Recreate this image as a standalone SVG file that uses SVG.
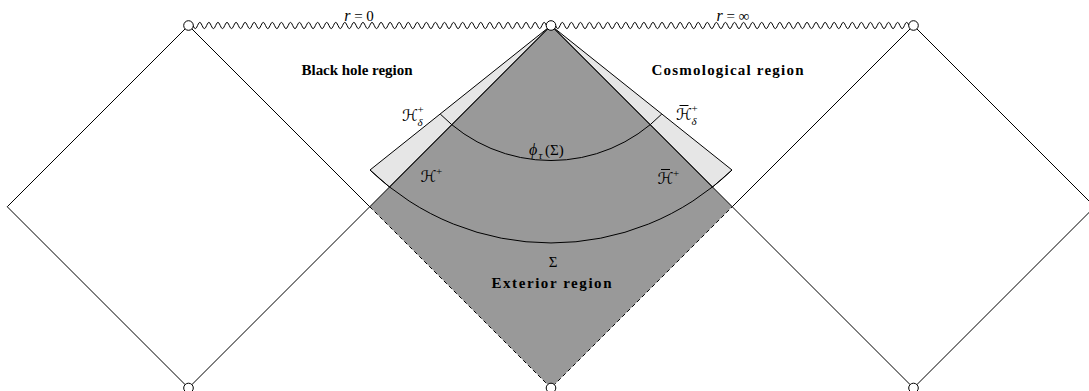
<svg xmlns="http://www.w3.org/2000/svg" width="1089" height="391" viewBox="0 0 1089 391">
<style>
.ln{fill:none;stroke:#000;stroke-width:1}
.dash{fill:none;stroke:#000;stroke-width:1;stroke-dasharray:4 3}
.wave{fill:none;stroke:#000;stroke-width:1}
.vtx{fill:#fff;stroke:#000;stroke-width:1}
.bar{stroke:#000;stroke-width:1}
.bold{font-family:"Liberation Serif","DejaVu Serif",serif;font-weight:bold;font-size:15px;fill:#000}
.mi{font-family:"Liberation Serif","DejaVu Serif",serif;font-style:italic;font-size:16px;fill:#000}
.rm{font-family:"Liberation Serif","DejaVu Serif",serif;font-size:15px;fill:#000}
.cal{font-family:"DejaVu Serif","DejaVu Sans",serif;font-style:italic;font-size:16px;fill:#000}
.sm{font-family:"Liberation Serif","DejaVu Serif",serif;font-size:11px;fill:#000}
.smi{font-family:"Liberation Serif","DejaVu Serif",serif;font-style:italic;font-size:11px;fill:#000}
</style>
<g id="regions">
  <path id="exterior-fill" d="M551,25.5 L732.25,206.75 L551,388 L369.75,206.75 Z" fill="#999999"/>
  <path id="h-delta-left" d="M551,25.5 L370,170 A261,261 0 0,0 389.5,187 Z" fill="#e6e6e6" stroke="#000" stroke-width="1"/>
  <path id="h-delta-right" d="M551,25.5 L732,170 A261,261 0 0,1 712.5,187 Z" fill="#e6e6e6" stroke="#000" stroke-width="1"/>
</g>
<g id="connectors">
  <path id="left-diamond" class="ln" d="M188.5,25.5 L369.75,206.75 L188.5,388 L7.25,206.75 Z"/>
  <path id="right-diamond" class="ln" d="M913.5,25.5 L1094.75,206.75 L913.5,388 L732.25,206.75 Z"/>
  <path id="H-plus" class="ln" d="M369.75,206.75 L551,25.5"/>
  <path id="Hbar-plus" class="ln" d="M551,25.5 L732.25,206.75"/>
  <path id="past-edges" class="dash" d="M369.75,206.75 L551,388 L732.25,206.75"/>
  <path id="sigma" class="ln" d="M370,170 A261,261 0 0,0 732,170"/>
  <path id="phi-sigma" class="ln" d="M440.3,114.1 A155.2,155.2 0 0,0 661.7,114.1"/>
  <path id="singularity-left" class="wave" d="M188.5,25.5 q2.2655,-6.2 4.531,0 t4.531,0 t4.531,0 t4.531,0 t4.531,0 t4.531,0 t4.531,0 t4.531,0 t4.531,0 t4.531,0 t4.531,0 t4.531,0 t4.531,0 t4.531,0 t4.531,0 t4.531,0 t4.531,0 t4.531,0 t4.531,0 t4.531,0 t4.531,0 t4.531,0 t4.531,0 t4.531,0 t4.531,0 t4.531,0 t4.531,0 t4.531,0 t4.531,0 t4.531,0 t4.531,0 t4.531,0 t4.531,0 t4.531,0 t4.531,0 t4.531,0 t4.531,0 t4.531,0 t4.531,0 t4.531,0 t4.531,0 t4.531,0 t4.531,0 t4.531,0 t4.531,0 t4.531,0 t4.531,0 t4.531,0 t4.531,0 t4.531,0 t4.531,0 t4.531,0 t4.531,0 t4.531,0 t4.531,0 t4.531,0 t4.531,0 t4.531,0 t4.531,0 t4.531,0 t4.531,0 t4.531,0 t4.531,0 t4.531,0 t4.531,0 t4.531,0 t4.531,0 t4.531,0 t4.531,0 t4.531,0 t4.531,0 t4.531,0 t4.531,0 t4.531,0 t4.531,0 t4.531,0 t4.531,0 t4.531,0 t4.531,0 t4.531,0"/>
  <path id="singularity-right" class="wave" d="M551,25.5 q2.2655,-6.2 4.531,0 t4.531,0 t4.531,0 t4.531,0 t4.531,0 t4.531,0 t4.531,0 t4.531,0 t4.531,0 t4.531,0 t4.531,0 t4.531,0 t4.531,0 t4.531,0 t4.531,0 t4.531,0 t4.531,0 t4.531,0 t4.531,0 t4.531,0 t4.531,0 t4.531,0 t4.531,0 t4.531,0 t4.531,0 t4.531,0 t4.531,0 t4.531,0 t4.531,0 t4.531,0 t4.531,0 t4.531,0 t4.531,0 t4.531,0 t4.531,0 t4.531,0 t4.531,0 t4.531,0 t4.531,0 t4.531,0 t4.531,0 t4.531,0 t4.531,0 t4.531,0 t4.531,0 t4.531,0 t4.531,0 t4.531,0 t4.531,0 t4.531,0 t4.531,0 t4.531,0 t4.531,0 t4.531,0 t4.531,0 t4.531,0 t4.531,0 t4.531,0 t4.531,0 t4.531,0 t4.531,0 t4.531,0 t4.531,0 t4.531,0 t4.531,0 t4.531,0 t4.531,0 t4.531,0 t4.531,0 t4.531,0 t4.531,0 t4.531,0 t4.531,0 t4.531,0 t4.531,0 t4.531,0 t4.531,0 t4.531,0 t4.531,0 t4.531,0"/>
</g>
<g id="vertices">
  <circle id="v-top-left" class="vtx" cx="188.5" cy="25.5" r="4.8"/>
  <circle id="v-top-mid" class="vtx" cx="551" cy="25.5" r="4.8"/>
  <circle id="v-top-right" class="vtx" cx="913.5" cy="25.5" r="4.8"/>
  <circle id="v-bot-left" class="vtx" cx="188.5" cy="388" r="4.8"/>
  <circle id="v-bot-mid" class="vtx" cx="551" cy="388" r="4.8"/>
  <circle id="v-bot-right" class="vtx" cx="913.5" cy="388" r="4.8"/>
</g>
<g id="labels">
  <text id="lbl-r0" x="359" y="20.5" text-anchor="middle"><tspan class="mi">r</tspan><tspan class="rm"> = 0</tspan></text>
  <text id="lbl-rinf" x="733" y="20.5" text-anchor="middle"><tspan class="mi">r</tspan><tspan class="rm"> = ∞</tspan></text>
  <text id="lbl-bh" class="bold" x="357" y="75" text-anchor="middle" textLength="111">Black hole region</text>
  <text id="lbl-cosmo" class="bold" x="727.5" y="75" text-anchor="middle" textLength="152">Cosmological region</text>
  <text id="lbl-ext" class="bold" x="551.5" y="288" text-anchor="middle" textLength="120">Exterior region</text>
  <text id="lbl-sigma" class="rm" x="553" y="267" text-anchor="middle">Σ</text>
  <g id="lbl-phi">
    <text class="mi" x="529" y="155">ϕ</text>
    <text class="smi" x="538.5" y="158.5">τ</text>
    <text class="rm" x="545" y="155">(Σ)</text>
  </g>
  <g id="lbl-Hd">
    <text class="cal" x="402" y="120.5">ℋ</text>
    <text class="sm" x="417.5" y="113">+</text>
    <text class="smi" x="417.5" y="126">δ</text>
  </g>
  <g id="lbl-Hbd">
    <text class="cal" x="676" y="120">ℋ</text>
    <line class="bar" x1="679.5" y1="105.5" x2="688.5" y2="105.5"/>
    <text class="sm" x="691.5" y="112">+</text>
    <text class="smi" x="691.5" y="125">δ</text>
  </g>
  <g id="lbl-H">
    <text class="cal" x="420.5" y="182">ℋ</text>
    <text class="sm" x="436" y="174.5">+</text>
  </g>
  <g id="lbl-Hb">
    <text class="cal" x="657.5" y="184">ℋ</text>
    <line class="bar" x1="661" y1="169.5" x2="670" y2="169.5"/>
    <text class="sm" x="673" y="176.5">+</text>
  </g>
</g>
</svg>
